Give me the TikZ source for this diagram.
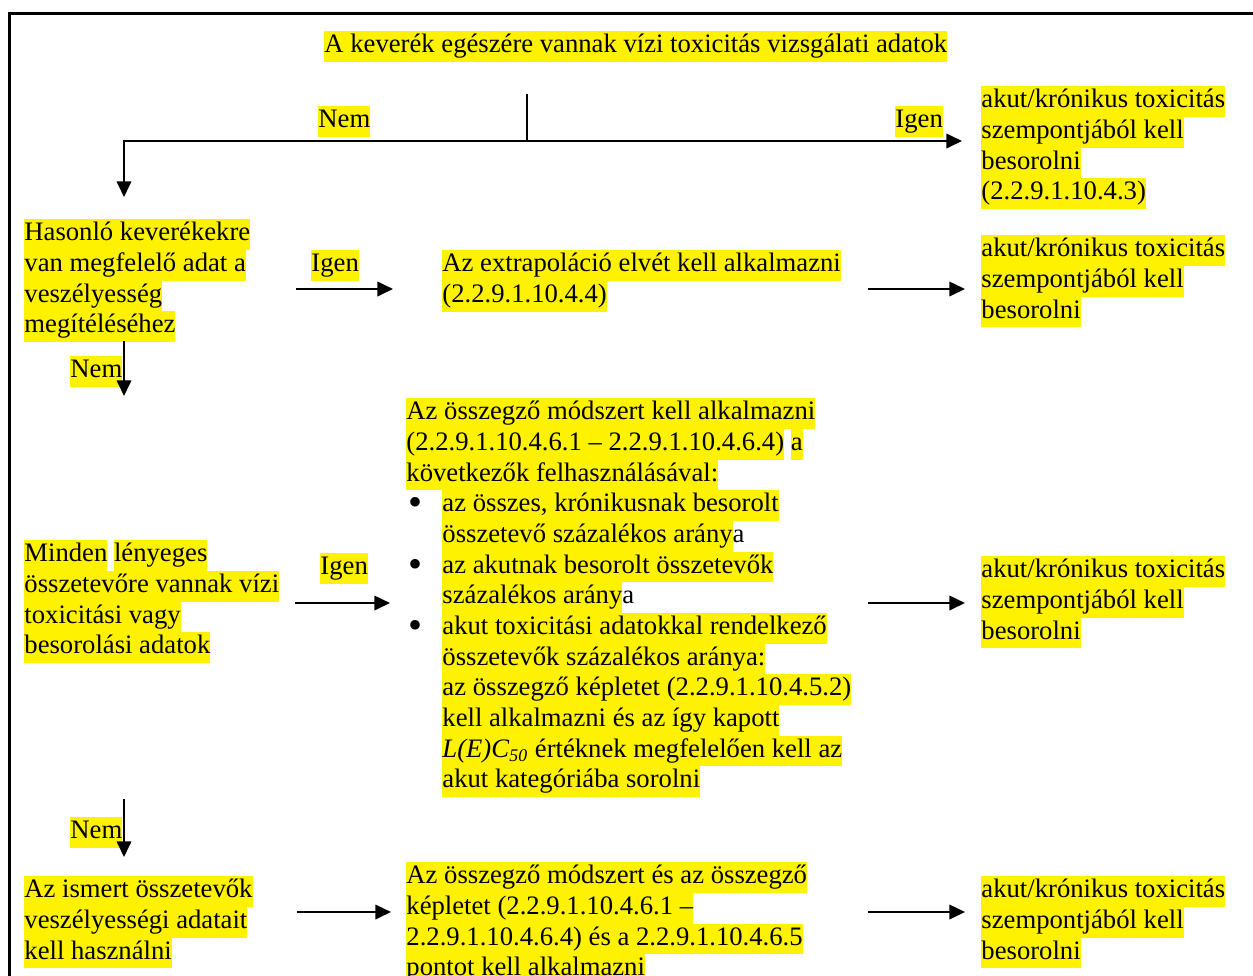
\documentclass[tikz,border=0pt]{standalone}
\usepackage{fontspec}
\setmainfont{Liberation Serif}
\usetikzlibrary{arrows.meta,positioning}
\setlength{\fboxsep}{0pt}
\newcommand{\hl}[1]{\colorbox{yellow}{\strut #1}}
\newcommand{\listmark}{\makebox[16.2pt][l]{\hspace{0.8pt}\raisebox{-1.8pt}{\scalebox{1.5}{\textbullet}}}}
\newcommand{\listindent}{\hspace*{16.2pt}}
\tikzstyle{txt} = [anchor=north west,
                   inner sep=0pt,
                   align=left,
                   font=\fontsize{12}{13.8}\selectfont]
\tikzstyle{arr} = [-{Triangle[length=7pt,width=6.5pt]},
                   line width=0.9pt]

\begin{document}
\begin{tikzpicture}[x=0.45pt, y=-0.45pt]
    \useasboundingbox (0,0) rectangle (1253,975);
    \clip (0,0) rectangle (1253,975);
    % frame
    \draw[line width=1.6pt] (9.5,980) -- (9.5,13.5) -- (1260,13.5);

    % question 1
    \node (q1) [txt] at (324,31) {\hl{A keverék egészére vannak vízi toxicitás vizsgálati adatok}};
    \node (no1) [txt] at (318,106) {\hl{Nem}};
    \node (yes1) [txt] at (895,106) {\hl{Igen}};
    \node (r1) [txt] at (981,86) {\hl{akut/krónikus toxicitás}\\ \hl{szempontjából kell}\\ \hl{besorolni}\\ \hl{(2.2.9.1.10.4.3)}};

    % question 2
    \node (q2) [txt] at (24,219) {\hl{Hasonló keverékekre}\\ \hl{van megfelelő adat a}\\ \hl{veszélyesség}\\ \hl{megítéléséhez}};
    \node (yes2) [txt] at (311,250) {\hl{Igen}};
    \node (a2) [txt] at (442,250) {\hl{Az extrapoláció elvét kell alkalmazni}\\ \hl{(2.2.9.1.10.4.4)}};
    \node (r2) [txt] at (981,235) {\hl{akut/krónikus toxicitás}\\ \hl{szempontjából kell}\\ \hl{besorolni}};
    \node (no2) [txt] at (70,356) {\hl{Nem}};

    % question 3
    \node (a3) [txt] at (406,398) {\hl{Az összegző módszert kell alkalmazni}\\
      \hl{(2.2.9.1.10.4.6.1 – 2.2.9.1.10.4.6.4)} \hl{a}\\
      \hl{következők felhasználásával:}\\
      \listmark\hl{az összes, krónikusnak besorolt}\\
      \listindent\hl{összetevő százalékos arány}a\\
      \listmark\hl{az akutnak besorolt összetevők}\\
      \listindent\hl{százalékos arány}a\\
      \listmark\hl{akut toxicitási adatokkal rendelkező}\\
      \listindent\hl{összetevők százalékos aránya:}\\
      \listindent\hl{az összegző képletet (2.2.9.1.10.4.5.2)}\\
      \listindent\hl{kell alkalmazni és az így kapott}\\
      \listindent\hl{\textit{L(E)C}\textsubscript{\textit{50}} értéknek megfelelően kell az}\\
      \listindent\hl{akut kategóriába sorolni}};
    \node (q3) [txt] at (24,540) {\hl{Minden} \hl{lényeges}\\ \hl{összetevőre vannak vízi}\\ \hl{toxicitási vagy}\\ \hl{besorolási adatok}};
    \node (yes3) [txt] at (320,553) {\hl{Igen}};
    \node (r3) [txt] at (981,556) {\hl{akut/krónikus toxicitás}\\ \hl{szempontjából kell}\\ \hl{besorolni}};
    \node (no3) [txt] at (70,817) {\hl{Nem}};

    % known components
    \node (q4) [txt] at (24,876) {\hl{Az ismert összetevők}\\ \hl{veszélyességi adatait}\\ \hl{kell használni}};
    \node (a4) [txt] at (406,862) {\hl{Az összegző módszert és az összegző}\\ \hl{képletet (2.2.9.1.10.4.6.1 –}\\ \hl{2.2.9.1.10.4.6.4) és a 2.2.9.1.10.4.6.5}\\ \hl{pontot kell alkalmazni}};
    \node (r4) [txt] at (981,876) {\hl{akut/krónikus toxicitás}\\ \hl{szempontjából kell}\\ \hl{besorolni}};

    % arrow ends
    \coordinate (s0) at (527,94);
    \coordinate (s1) at (527,141);
    \coordinate (y1) at (962,141);
    \coordinate (n1) at (124,197);
    \coordinate (p2a) at (296,289);
    \coordinate (p2b) at (393,289);
    \coordinate (p2c) at (868,289);
    \coordinate (p2d) at (965,289);
    \coordinate (n2a) at (124,341);
    \coordinate (n2b) at (124,396);
    \coordinate (p3a) at (295,603);
    \coordinate (p3b) at (390,603);
    \coordinate (p3c) at (868,603);
    \coordinate (p3d) at (965,603);
    \coordinate (n3a) at (124,799);
    \coordinate (n3b) at (124,857);
    \coordinate (p4a) at (297,912);
    \coordinate (p4b) at (391,912);
    \coordinate (p4c) at (868,912);
    \coordinate (p4d) at (965,912);

    \draw[line width=0.9pt] (s0) -- (s1);
    \draw[arr] (s1) -- (y1);
    \draw[arr] (s1) -| (n1);
    \draw[arr] (p2a) -- (p2b);
    \draw[arr] (p2c) -- (p2d);
    \draw[arr] (n2a) -- (n2b);
    \draw[arr] (p3a) -- (p3b);
    \draw[arr] (p3c) -- (p3d);
    \draw[arr] (n3a) -- (n3b);
    \draw[arr] (p4a) -- (p4b);
    \draw[arr] (p4c) -- (p4d);
\end{tikzpicture}
\end{document}
